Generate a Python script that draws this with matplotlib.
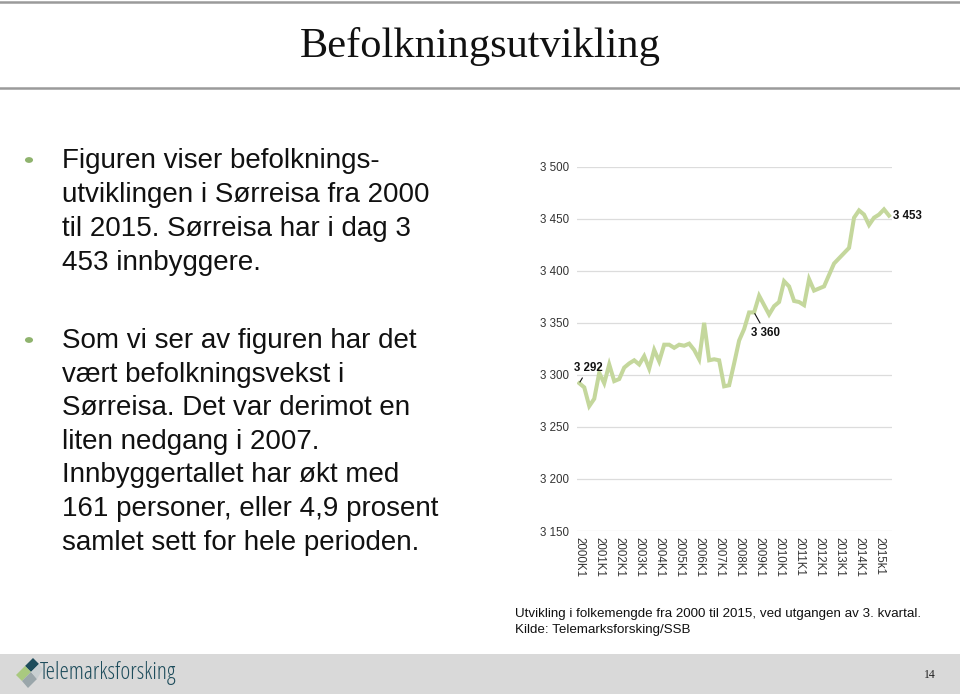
import matplotlib
matplotlib.use("Agg")
import matplotlib.pyplot as plt
from matplotlib.patches import Rectangle, Polygon, Circle
from matplotlib.lines import Line2D

# ---- data ----
years = list(range(2000, 2016))
quarters = [f"{y}K{q}" for y in years for q in range(1, 5)][:63]
population = [3292, 3288, 3270, 3277, 3302, 3292, 3310, 3294, 3296, 3307,
              3311, 3314, 3310, 3318, 3306, 3324, 3313, 3329, 3329, 3326,
              3329, 3328, 3330, 3324, 3315, 3350, 3314, 3315, 3314, 3289,
              3290, 3311, 3333, 3344, 3360, 3360, 3376, 3367, 3358, 3366,
              3370, 3390, 3385, 3371, 3370, 3367, 3392, 3381, 3383, 3385,
              3396, 3407, 3412, 3417, 3422, 3451, 3458, 3454, 3444, 3451,
              3454, 3459, 3453]
tick_labels = [f"{y}K1" for y in years[:-1]] + ["2015k1"]
y_ticks = [3150, 3200, 3250, 3300, 3350, 3400, 3450, 3500]

W, H = 960, 694
fig = plt.figure(figsize=(W / 100, H / 100), dpi=100)

def fx(x):
    return x / W

def fy(y):
    return 1 - y / H

def fmt(v):
    return f"{v // 1000} {v % 1000:03d}"

# ---- title bar ----
fig.add_artist(Line2D([0, 1], [fy(2), fy(2)], color="#9a9a9a", lw=1.8))
fig.add_artist(Line2D([0, 1], [fy(88), fy(88)], color="#9a9a9a", lw=1.8))
fig.text(0.5, fy(46), "Befolkningsutvikling", ha="center", va="center",
         fontsize=30.5, family="Liberation Serif", color="#111111")

# ---- left text ----
green = "#8fb36e"
txt_kw = dict(fontsize=20, family="Liberation Sans", color="#111111",
              va="center", ha="left")
block1 = ["Figuren viser befolknings-", "utviklingen i Sørreisa fra 2000",
          "til 2015. Sørreisa har i dag 3", "453 innbyggere."]
block2 = ["Som vi ser av figuren har det", "vært befolkningsvekst i",
          "Sørreisa. Det var derimot en", "liten nedgang i 2007.",
          "Innbyggertallet har økt med", "161 personer, eller 4,9 prosent",
          "samlet sett for hele perioden."]
for i, s in enumerate(block1):
    fig.text(fx(62), fy(161 + 34 * i), s, **txt_kw)
for i, s in enumerate(block2):
    fig.text(fx(62), fy(341 + 33.6 * i), s, **txt_kw)
for yb in (160, 340):
    fig.add_artist(Circle((fx(29), fy(yb)), 0.0042, transform=fig.transFigure,
                          color=green, ec="none"))

# ---- chart ----
left, right, top, bottom = 577, 892, 166.7, 531
ax = fig.add_axes([fx(left), fy(bottom), fx(right - left), fy(top) - fy(bottom)])
x = list(range(len(population)))
ax.plot(x, population, color="#c4d79c", lw=2.9, solid_joinstyle="miter", zorder=3)
ax.set_xlim(-0.45, 62.6)
ax.set_ylim(3150, 3500)
ax.set_yticks(y_ticks)
ax.set_yticklabels([fmt(v) for v in y_ticks],
                   family="Liberation Sans", fontsize=8.3, color="#333333")
ax.set_xticks(list(range(0, 61, 4)))
ax.set_xticklabels(tick_labels, rotation=270, family="Liberation Sans",
                   fontsize=8.3, color="#333333", va="top", ha="center")
ax.tick_params(length=0, pad=6)
ax.tick_params(axis="x", pad=4)
ax.grid(axis="y", color="#dcdcdc", lw=0.9)
ax.set_axisbelow(True)
for s in ax.spines.values():
    s.set_visible(False)

# annotations
lab_kw = dict(family="Liberation Sans", fontsize=8.3, fontweight="bold",
              color="#111111", annotation_clip=False, ha="center", va="center",
              textcoords="offset points")
arrow = dict(arrowstyle="-", color="#111111", lw=0.8, shrinkA=1, shrinkB=1)
ax.annotate(fmt(population[0]), xy=(0, population[0]), xytext=(6.5, 11),
            arrowprops=arrow, **lab_kw)
ax.annotate(fmt(population[35]), xy=(35, population[35]), xytext=(8.3, -14.8),
            arrowprops=arrow, **lab_kw)
ax.annotate(fmt(population[-1]), xy=(62, population[-1]), xytext=(13.5, 0),
            **lab_kw)

# caption
cap_kw = dict(family="Liberation Sans", fontsize=9.6, color="#111111",
              ha="left", va="center")
fig.text(fx(515), fy(614), "Utvikling i folkemengde fra 2000 til 2015, ved utgangen av 3. kvartal.", **cap_kw)
fig.text(fx(515), fy(630), "Kilde: Telemarksforsking/SSB", **cap_kw)

# ---- footer ----
fig.add_artist(Rectangle((0, 0), 1, fy(654), transform=fig.transFigure,
                         color="#d9d9d9", ec="none", zorder=0))
teal = "#1e4d5c"
def poly(pts, color):
    fig.add_artist(Polygon([(fx(a), fy(b)) for a, b in pts], closed=True,
                           transform=fig.transFigure, color=color, ec="none"))
poly([(25, 666), (33, 658), (39, 664), (31, 672)], teal)
poly([(16, 675), (25, 666), (31, 672), (22, 681)], "#a9c97f")
poly([(22, 681), (31, 672), (37, 679), (28, 688)], "#9aa6aa")
poly([(31, 672), (39, 664), (43, 669), (37, 679)], "#c8cfd1")
fig.text(fx(40), fy(673), "Telemarksforsking", family="Open Sans",
         fontsize=17, color=teal, ha="left", va="center",
         fontstretch="condensed")
fig.text(fx(936), fy(675), "14", family="Liberation Serif", fontsize=8.5,
         color="#222222", ha="right", va="center")

fig.savefig("out.png", dpi=100)
